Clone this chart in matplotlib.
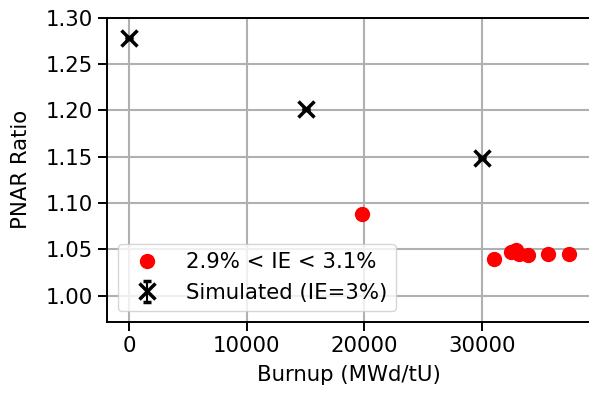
import numpy as np
import matplotlib.pyplot as plt

# Datos medidos
meas_burnup = [19800, 31000, 32500, 32900, 33200, 33900, 35600, 37450]
meas_ratio = [1.088, 1.040, 1.047, 1.049, 1.045, 1.044, 1.045, 1.045]

# Datos simulados
sim_burnup = [0, 15000, 30000]
sim_ratio = [1.278, 1.201, 1.149]
sim_err = [0.001, 0.001, 0.001]

plt.rcParams['font.size'] = 15.3

fig = plt.figure(figsize=(5.89, 3.94), dpi=100)
# el eje derecho queda recortado como en la figura original
ax = fig.add_axes([0.1817, 0.183, 0.822, 0.772])

ax.plot(meas_burnup, meas_ratio, 'o', color='red', markersize=10,
        label="2.9% < IE < 3.1%", zorder=3)
ax.errorbar(sim_burnup, sim_ratio, yerr=sim_err, fmt='x', color='black',
            markersize=12, mew=2.5, capsize=3, elinewidth=1.5, capthick=1.5,
            label="Simulated (IE=3%)", zorder=3)

ax.set_xlim(-1900, 39300)
ax.set_ylim(0.9717, 1.30)
ax.set_yticks([1.00, 1.05, 1.10, 1.15, 1.20, 1.25, 1.30])
ax.set_xticks([0, 10000, 20000, 30000])
ax.grid(True, color='#b0b0b0', linewidth=1.5)
ax.set_axisbelow(True)
for s in ax.spines.values():
    s.set_linewidth(1.4)
ax.tick_params(width=1.4, length=6.5, pad=4)

ax.set_xlabel("Burnup (MWd/tU)", labelpad=6)
ax.set_ylabel("PNAR Ratio", labelpad=10)
ax.legend(loc="lower left")

fig.savefig("out.png", dpi=100)
